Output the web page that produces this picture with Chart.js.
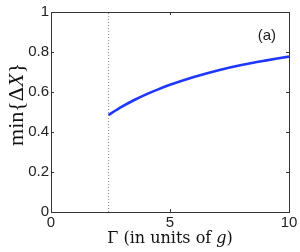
<!DOCTYPE html>
<html><head><meta charset="utf-8">
<script src="https://cdn.jsdelivr.net/npm/chart.js@4.4.1/dist/chart.umd.min.js"></script>
<style>html,body{margin:0;padding:0;background:#fff;}#wrap{width:300px;height:252px;}</style>
</head><body><div id="wrap"><canvas id="c" width="300" height="252"></canvas></div>
<script>
const gammaValues = [2.42, 2.75, 3, 3.5, 4, 4.5, 5, 6, 7, 8, 9, 10];
const minDeltaX = [0.485, 0.51, 0.528, 0.56, 0.588, 0.613, 0.636, 0.675, 0.708, 0.735, 0.757, 0.777];
const thresholdGamma = 2.42;
const xTicks = [0, 5, 10];
const yTicks = [0, 0.2, 0.4, 0.6, 0.8, 1];
const panelLabel = "(a)";

const curve = gammaValues.map((g, i) => ({x: g, y: minDeltaX[i]}));
const vline = [{x: thresholdGamma, y: 0}, {x: thresholdGamma, y: 1}];

const frame = {
  id: 'frame',
  afterDraw(chart) {
    const ctx = chart.ctx, a = chart.chartArea;
    const xs = chart.scales.x, ys = chart.scales.y;
    ctx.save();
    ctx.strokeStyle = '#333';
    ctx.lineWidth = 1;
    ctx.strokeRect(Math.round(a.left) + 0.5, Math.round(a.top) + 0.5, Math.round(a.right - a.left), Math.round(a.bottom - a.top));
    ctx.beginPath();
    xTicks.forEach(v => {
      const px = Math.round(xs.getPixelForValue(v)) + 0.5;
      ctx.moveTo(px, a.bottom); ctx.lineTo(px, a.bottom - 3);
      ctx.moveTo(px, a.top); ctx.lineTo(px, a.top + 3);
    });
    yTicks.forEach(v => {
      const py = Math.round(ys.getPixelForValue(v)) + 0.5;
      ctx.moveTo(a.left, py); ctx.lineTo(a.left + 3, py);
      ctx.moveTo(a.right, py); ctx.lineTo(a.right - 3, py);
    });
    ctx.stroke();
    ctx.fillStyle = '#222';
    ctx.font = '15px "Liberation Sans", Arial, sans-serif';
    ctx.textAlign = 'center'; ctx.textBaseline = 'middle';
    ctx.fillText(panelLabel, xs.getPixelForValue(9.07), ys.getPixelForValue(0.88));
    function drawSegs(segs, cx, cy) {
      let total = 0;
      segs.forEach(s => { ctx.font = s.f; s.w = ctx.measureText(s.t).width; total += s.w; });
      let x = cx - total / 2;
      ctx.textAlign = 'left'; ctx.textBaseline = 'alphabetic';
      segs.forEach(s => { ctx.font = s.f; ctx.fillText(s.t, x, cy); x += s.w; });
    }
    const rf = '16px "DejaVu Serif", "Liberation Serif", serif';
    const itf = 'italic 16px "DejaVu Serif", "Liberation Serif", serif';
    const rfy = '22px "Liberation Serif", "DejaVu Serif", serif';
    const itfy = 'italic 22px "Liberation Serif", "DejaVu Serif", serif';
    ctx.fillStyle = '#111';
    drawSegs([{t: 'Γ (in units of ', f: rf}, {t: 'g', f: itf}, {t: ')', f: rf}], (a.left + a.right) / 2, 243);
    ctx.save();
    ctx.translate(18, 104.5);
    ctx.rotate(-Math.PI / 2);
    drawSegs([{t: 'min{Δ', f: rfy}, {t: 'X', f: itfy}, {t: '}', f: rfy}], 0, 5);
    ctx.restore();
    ctx.restore();
  }
};

new Chart(document.getElementById('c'), {
  type: 'scatter',
  data: {
    datasets: [
      {data: curve, showLine: true, borderColor: 'rgb(30,55,255)', borderWidth: 2.6, pointRadius: 0, tension: 0.3},
      {data: vline, showLine: true, borderColor: '#888', borderWidth: 1, borderDash: [1, 2], pointRadius: 0}
    ]
  },
  options: {
    responsive: false,
    animation: false,
    devicePixelRatio: 1,
    layout: {padding: {left: 0, top: 12, right: 11, bottom: 0}},
    plugins: {legend: {display: false}, tooltip: {enabled: false}},
    scales: {
      x: {
        type: 'linear', min: 0, max: 10,
        afterBuildTicks: s => { s.ticks = xTicks.map(v => ({value: v})); },
        afterFit: s => { s.height = 40; },
        grid: {display: false, drawTicks: false}, border: {display: false},
        ticks: {color: '#222', font: {family: '"Liberation Sans", Arial, sans-serif', size: 15}, padding: 2, maxRotation: 0}
      },
      y: {
        type: 'linear', min: 0, max: 1,
        afterBuildTicks: s => { s.ticks = yTicks.map(v => ({value: v})); },
        afterFit: s => { s.width = 51; },
        grid: {display: false, drawTicks: false}, border: {display: false},
        ticks: {color: '#222', font: {family: '"Liberation Sans", Arial, sans-serif', size: 15}, padding: 2,
          callback: v => String(v)}
      }
    }
  },
  plugins: [frame]
});
</script></body></html>
